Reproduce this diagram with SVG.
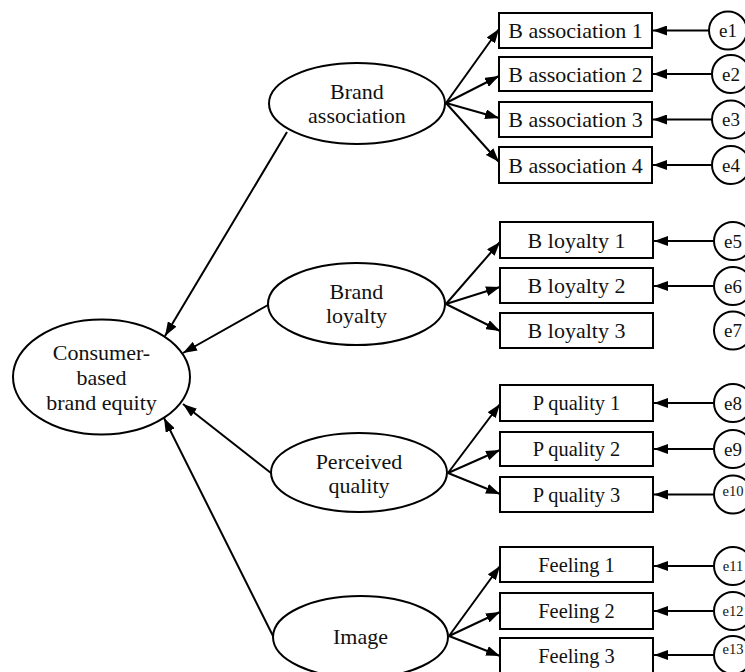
<svg xmlns="http://www.w3.org/2000/svg" width="745" height="672" viewBox="0 0 745 672">
  <style>
    .shape { fill: #fff; stroke: #000; stroke-width: 2; }
    .edge { stroke: #000; stroke-width: 2; fill: none; marker-end: url(#arrow); }
    text { font-family: "Liberation Serif", "Times New Roman", serif; fill: #111; text-anchor: middle; }
    .lat { font-size: 22px; }
    .obs { font-size: 22px; }
    .obs2 { font-size: 20.4px; }
    .err { font-size: 19px; }
    .err2 { font-size: 14.5px; }
  </style>
  <defs>
    <marker id="arrow" viewBox="0 0 14 10" refX="14" refY="5" markerWidth="14" markerHeight="10" markerUnits="userSpaceOnUse" orient="auto">
      <path d="M0,0 L14,5 L0,10 z" fill="#000"/>
    </marker>
  </defs>

  <!-- connectors -->
  <g id="connectors">
    <!-- first-order factors to the second-order factor -->
    <line class="edge" x1="287" y1="132" x2="165" y2="336"/>
    <line class="edge" x1="268" y1="305" x2="183" y2="353"/>
    <line class="edge" x1="271" y1="473" x2="183" y2="404"/>
    <line class="edge" x1="273" y1="636" x2="164" y2="418"/>
    <!-- brand association indicators -->
    <line class="edge" x1="446" y1="103" x2="499" y2="29"/>
    <line class="edge" x1="446" y1="103" x2="499" y2="76"/>
    <line class="edge" x1="446" y1="103" x2="499" y2="118"/>
    <line class="edge" x1="446" y1="103" x2="499" y2="162"/>
    <!-- brand loyalty indicators -->
    <line class="edge" x1="446" y1="304" x2="500" y2="242"/>
    <line class="edge" x1="446" y1="304" x2="500" y2="287"/>
    <line class="edge" x1="446" y1="304" x2="500" y2="331"/>
    <!-- perceived quality indicators -->
    <line class="edge" x1="448" y1="473" x2="500" y2="404"/>
    <line class="edge" x1="448" y1="473" x2="500" y2="450"/>
    <line class="edge" x1="448" y1="473" x2="500" y2="494"/>
    <!-- image indicators -->
    <line class="edge" x1="449" y1="636" x2="500" y2="566"/>
    <line class="edge" x1="449" y1="636" x2="500" y2="612"/>
    <line class="edge" x1="449" y1="636" x2="500" y2="656"/>
    <!-- error terms -->
    <line class="edge" x1="709" y1="30.5" x2="653" y2="30.5"/>
    <line class="edge" x1="712" y1="74" x2="653" y2="74"/>
    <line class="edge" x1="712" y1="119.5" x2="653" y2="119.5"/>
    <line class="edge" x1="712" y1="165" x2="653" y2="165"/>
    <line class="edge" x1="714" y1="241" x2="654" y2="241"/>
    <line class="edge" x1="714" y1="286" x2="654" y2="286"/>
    <line class="edge" x1="714" y1="403" x2="654" y2="403"/>
    <line class="edge" x1="714" y1="449" x2="654" y2="449"/>
    <line class="edge" x1="714" y1="494.5" x2="654" y2="494.5"/>
    <line class="edge" x1="714" y1="566" x2="654" y2="566"/>
    <line class="edge" x1="714" y1="611" x2="654" y2="611"/>
    <line class="edge" x1="714" y1="655" x2="654" y2="655"/>
  </g>

  <!-- second-order factor -->
  <g id="cbbe">
    <ellipse class="shape" cx="101.5" cy="377" rx="88.5" ry="57.5"/>
    <text class="lat" x="101.5" y="360">Consumer-</text>
    <text class="lat" x="101.5" y="385">based</text>
    <text class="lat" x="101.5" y="410">brand equity</text>
  </g>

  <!-- first-order factors -->
  <g id="brand-association">
    <ellipse class="shape" cx="357" cy="103.5" rx="88" ry="40.5"/>
    <text class="lat" x="357" y="99">Brand</text>
    <text class="lat" x="357" y="123">association</text>
  </g>
  <g id="brand-loyalty">
    <ellipse class="shape" cx="356.5" cy="304" rx="88.5" ry="41"/>
    <text class="lat" x="356.5" y="299">Brand</text>
    <text class="lat" x="356.5" y="323">loyalty</text>
  </g>
  <g id="perceived-quality">
    <ellipse class="shape" cx="359" cy="472.5" rx="88" ry="39.5"/>
    <text class="lat" x="359" y="469">Perceived</text>
    <text class="lat" x="359" y="493">quality</text>
  </g>
  <g id="image">
    <ellipse class="shape" cx="360.5" cy="637" rx="87.5" ry="41"/>
    <text class="lat" x="360.5" y="644">Image</text>
  </g>

  <!-- indicators -->
  <g id="ba1"><rect class="shape" x="499" y="13" width="153" height="35"/><text class="obs" x="575.5" y="38">B association 1</text></g>
  <g id="ba2"><rect class="shape" x="499" y="57" width="153" height="34"/><text class="obs" x="575.5" y="81.5">B association 2</text></g>
  <g id="ba3"><rect class="shape" x="499" y="102" width="153" height="35"/><text class="obs" x="575.5" y="127">B association 3</text></g>
  <g id="ba4"><rect class="shape" x="499" y="147" width="153" height="36"/><text class="obs" x="575.5" y="172.5">B association 4</text></g>

  <g id="bl1"><rect class="shape" x="500" y="222" width="153" height="36"/><text class="obs" x="576.5" y="247.5">B loyalty 1</text></g>
  <g id="bl2"><rect class="shape" x="500" y="268" width="153" height="35"/><text class="obs" x="576.5" y="293">B loyalty 2</text></g>
  <g id="bl3"><rect class="shape" x="500" y="313" width="153" height="35"/><text class="obs" x="576.5" y="338">B loyalty 3</text></g>

  <g id="pq1"><rect class="shape" x="500" y="385" width="153" height="36"/><text class="obs2" x="576.5" y="410">P quality 1</text></g>
  <g id="pq2"><rect class="shape" x="500" y="432" width="153" height="34"/><text class="obs2" x="576.5" y="456">P quality 2</text></g>
  <g id="pq3"><rect class="shape" x="500" y="477" width="153" height="35"/><text class="obs2" x="576.5" y="501.5">P quality 3</text></g>

  <g id="fe1"><rect class="shape" x="500" y="547" width="153" height="35"/><text class="obs2" x="576.5" y="571.5">Feeling 1</text></g>
  <g id="fe2"><rect class="shape" x="500" y="593" width="153" height="36"/><text class="obs2" x="576.5" y="618">Feeling 2</text></g>
  <g id="fe3"><rect class="shape" x="500" y="638" width="153" height="40"/><text class="obs2" x="576.5" y="663">Feeling 3</text></g>

  <!-- error terms -->
  <g id="e1"><circle class="shape" cx="728" cy="30.5" r="19"/><text class="err" x="728" y="37">e1</text></g>
  <g id="e2"><circle class="shape" cx="731" cy="74" r="19"/><text class="err" x="731" y="80.5">e2</text></g>
  <g id="e3"><circle class="shape" cx="731" cy="119.5" r="19"/><text class="err" x="731" y="126">e3</text></g>
  <g id="e4"><circle class="shape" cx="731" cy="165" r="19"/><text class="err" x="731" y="171.5">e4</text></g>
  <g id="e5"><circle class="shape" cx="733" cy="241" r="19"/><text class="err" x="733" y="247.5">e5</text></g>
  <g id="e6"><circle class="shape" cx="733" cy="286" r="19"/><text class="err" x="733" y="292.5">e6</text></g>
  <g id="e7"><circle class="shape" cx="733" cy="330.5" r="19"/><text class="err" x="733" y="337">e7</text></g>
  <g id="e8"><circle class="shape" cx="733" cy="403" r="19"/><text class="err" x="733" y="409.5">e8</text></g>
  <g id="e9"><circle class="shape" cx="733" cy="449" r="19"/><text class="err" x="733" y="455.5">e9</text></g>
  <g id="e10"><circle class="shape" cx="733" cy="494.5" r="19"/><text class="err2" x="733" y="496">e10</text></g>
  <g id="e11"><circle class="shape" cx="733" cy="566" r="19"/><text class="err2" x="733" y="571">e11</text></g>
  <g id="e12"><circle class="shape" cx="733" cy="611" r="19"/><text class="err2" x="733" y="616">e12</text></g>
  <g id="e13"><circle class="shape" cx="733" cy="655" r="19"/><text class="err2" x="733" y="654">e13</text></g>
</svg>
